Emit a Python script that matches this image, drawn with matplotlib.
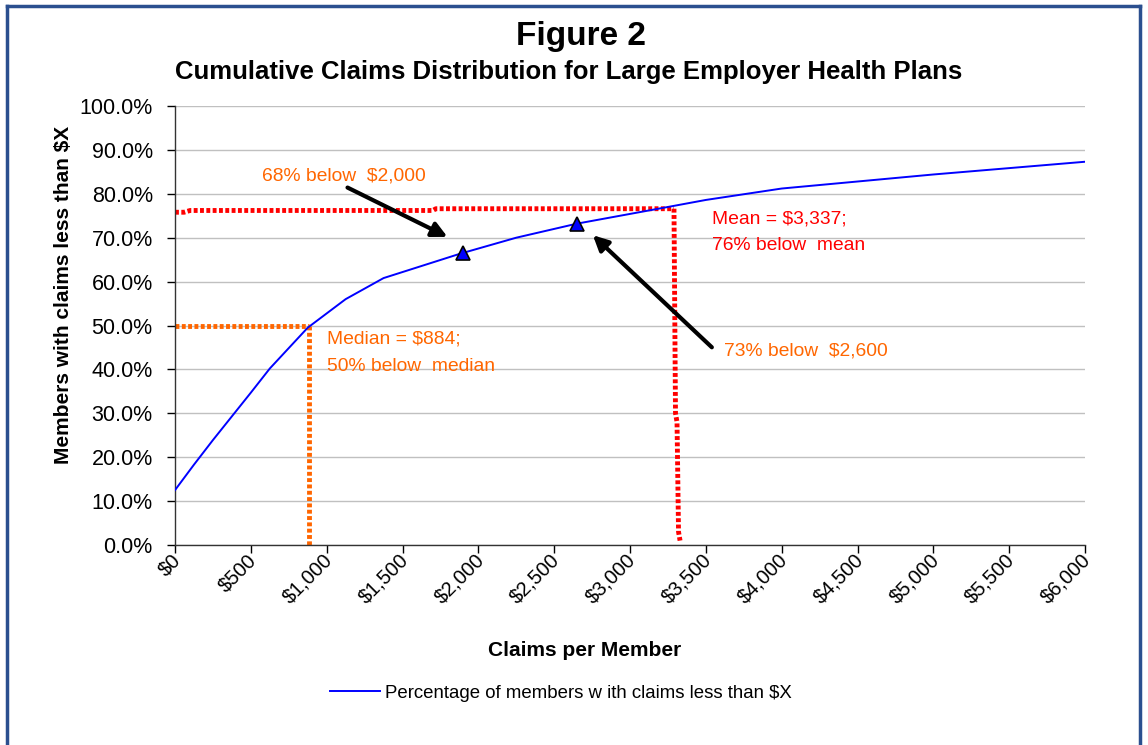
import matplotlib
matplotlib.use("Agg")
import matplotlib.pyplot as plt
from matplotlib.lines import Line2D
from matplotlib.ticker import FuncFormatter, MultipleLocator
from matplotlib.transforms import ScaledTranslation

plt.rcParams["font.family"] = ["Liberation Sans", "DejaVu Sans"]

# cumulative share of members with claims below $X
claims = [0, 125, 250, 500, 625, 875, 1125, 1375, 1875, 2250, 2650, 3250, 3500, 4000, 5000, 6000]
pct_below = [12.5, 18.3, 23.9, 34.7, 40.2, 49.5, 56.0, 60.8, 66.3, 70.0, 73.2, 77.0, 78.6, 81.2, 84.4, 87.3]

# highlighted points on the curve
marker_x = [1900, 2650]
marker_y = [66.5, 73.2]

# hand-drawn reference lines (median, mean)
median_h_x = [0, 884]
median_h_y = [50.0, 50.0]
median_v_x = [884, 884]
median_v_y = [50.0, 0.0]
mean_h_x = [0, 60, 100, 1700, 1720, 3290]
mean_h_y = [75.8, 75.8, 76.2, 76.2, 76.6, 76.6]
mean_v_x = [3290, 3300, 3310, 3320, 3330]
mean_v_y = [76.6, 30.0, 28.0, 3.0, 1.0]

ORANGE = "#FF6600"
RED = "#FF0000"

fig = plt.figure(figsize=(11.48, 7.45), dpi=100)
ax = fig.add_axes([175 / 1148, 1 - 545 / 745, 910 / 1148, 439 / 745])

ax.plot(claims, pct_below, color="#0000FF", lw=1.4, zorder=3)
ax.plot(median_h_x, median_h_y, color=ORANGE, lw=3.5, ls=(0, (0.8, 0.5)), zorder=2)
ax.plot(median_v_x, median_v_y, color=ORANGE, lw=3.5, ls=(0, (0.8, 0.5)), zorder=2)
ax.plot(mean_h_x, mean_h_y, color=RED, lw=3.5, ls=(0, (0.8, 0.5)), zorder=2)
ax.plot(mean_v_x, mean_v_y, color=RED, lw=3.5, ls=(0, (0.8, 0.5)), zorder=2)
ax.plot(marker_x, marker_y, ls="none", marker="^", ms=10, mfc="#0000FF",
        mec="black", mew=1.2, zorder=4)

arrow = dict(arrowstyle="-|>,head_length=0.9,head_width=0.45", color="black", lw=3)
ax.annotate("", xy=(1813, 69.9), xytext=(1121, 81.7), arrowprops=arrow, zorder=5)
ax.annotate("", xy=(2742, 71.0), xytext=(3553, 44.6), arrowprops=arrow, zorder=5)

fs = 13.9
ax.text(573, 84.0, "68% below  $2,000", color=ORANGE, fontsize=fs, va="center")
ax.text(1002, 46.9, "Median = $884;", color=ORANGE, fontsize=fs, va="center")
ax.text(1002, 40.7, "50% below  median", color=ORANGE, fontsize=fs, va="center")
ax.text(3540, 74.2, "Mean = $3,337;", color=RED, fontsize=fs, va="center")
ax.text(3540, 68.3, "76% below  mean", color=RED, fontsize=fs, va="center")
ax.text(3619, 44.2, "73% below  $2,600", color=ORANGE, fontsize=fs, va="center")

ax.set_xlim(0, 6000)
ax.set_ylim(0, 100)
ax.xaxis.set_major_locator(MultipleLocator(500))
ax.yaxis.set_major_locator(MultipleLocator(10))
ax.xaxis.set_major_formatter(FuncFormatter(lambda v, p: "${:,.0f}".format(v)))
ax.yaxis.set_major_formatter(FuncFormatter(lambda v, p: "{:.1f}%".format(v)))
ax.tick_params(axis="y", direction="out", length=6, width=1, labelsize=15.5, pad=10)
ax.tick_params(axis="x", direction="out", length=6, width=1, labelsize=14.5, pad=-2)
shift = ScaledTranslation(-4 / 100, 0, fig.dpi_scale_trans)
for lab in ax.get_xticklabels():
    lab.set_rotation(45)
    lab.set_ha("right")
    lab.set_va("top")
    lab.set_rotation_mode("anchor")
    lab.set_transform(lab.get_transform() + shift)
ax.grid(axis="y", color="#C0C0C0", lw=1)
ax.set_axisbelow(True)
for side in ["top", "right"]:
    ax.spines[side].set_visible(False)
for side in ["left", "bottom"]:
    ax.spines[side].set_color("#333333")
    ax.spines[side].set_linewidth(1)

ax.set_xlabel("Claims per Member", fontsize=15, fontweight="bold")
ax.xaxis.set_label_coords((585 - 175) / 910, -(650 - 545) / 439)
ax.xaxis.label.set_va("center")
ax.set_ylabel("Members with claims less than $X", fontsize=15, fontweight="bold")
ax.yaxis.set_label_coords(-(175 - 64) / 910, (545 - 295) / 439)
ax.yaxis.label.set_va("center")

fig.text(581 / 1148, 1 - 37 / 745, "Figure 2", ha="center", va="center", fontsize=24, fontweight="bold")
fig.text(569 / 1148, 1 - 72 / 745, "Cumulative Claims Distribution for Large Employer Health Plans",
         ha="center", va="center", fontsize=18.5, fontweight="bold")

handle = Line2D([], [], color="#0000FF", lw=1.4)
fig.legend([handle], ["Percentage of members w ith claims less than $X"], loc="center",
           bbox_to_anchor=(561 / 1148, 1 - 693 / 745), frameon=False, fontsize=13.4,
           handlelength=2.7, handletextpad=0.27)

# outer chart frame
frame = "#2B4F8F"
fig.add_artist(Line2D([7 / 1148, 7 / 1148], [0, 1 - 6 / 745], color=frame, lw=2.5))
fig.add_artist(Line2D([7 / 1148, 1140 / 1148], [1 - 6 / 745, 1 - 6 / 745], color=frame, lw=2.5))
fig.add_artist(Line2D([1140 / 1148, 1140 / 1148], [0, 1 - 6 / 745], color=frame, lw=2.5))

fig.savefig("out.png", dpi=100, facecolor="white")
